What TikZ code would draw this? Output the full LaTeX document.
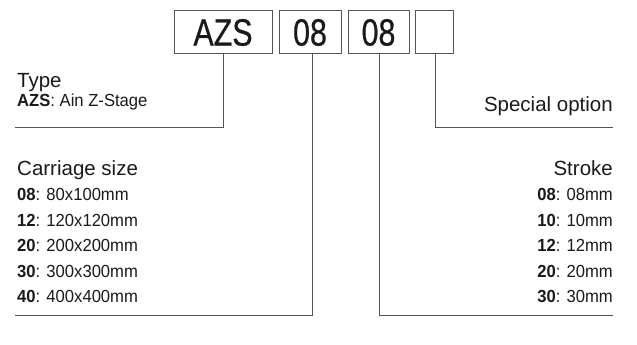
\documentclass[tikz,border=0pt]{standalone}
\usepackage{fontspec}
\setmainfont{Liberation Sans}
\newfontfamily\condfont[FakeStretch=0.95]{Liberation Sans}
\newfontfamily\boxfont[FakeStretch=0.8,FakeBold=0.6]{Liberation Sans}
\definecolor{linegray}{HTML}{555555}
\definecolor{txt}{HTML}{1A1A1A}
\begin{document}
\begin{tikzpicture}[x=1pt,y=1pt,
  codebox/.style={draw=linegray, line width=1pt, inner sep=0pt, minimum height=43pt,
    font=\boxfont\fontsize{38}{40}\selectfont, text=txt},
  conn/.style={draw=linegray, line width=1pt},
  head/.style={inner sep=0pt, font=\fontsize{20.5}{23}\selectfont, text=txt},
  item/.style={inner sep=0pt, font=\condfont\fontsize{17.5}{20}\selectfont, text=txt}]
\useasboundingbox (0,0) rectangle (637,-345);
% code boxes
\node[codebox, minimum width=98pt] (azs) at (223,-32.5) {AZS};
\node[codebox, minimum width=62pt] (sz) at (310,-32.5) {08};
\node[codebox, minimum width=61pt] (st) at (378.5,-32.5) {08};
\node[codebox, minimum width=38pt] (sp) at (434,-32.5) {};
% connector ends
\coordinate (typeend) at (15,-127);
\coordinate (sizeend) at (15,-315);
\coordinate (strokeend) at (613,-315);
\coordinate (specend) at (613,-127);
\draw[conn] (azs.south) |- (typeend);
\draw[conn] ([xshift=2pt]sz.south) |- (sizeend);
\draw[conn] ([xshift=1pt]st.south) |- (strokeend);
\draw[conn] ([xshift=1pt]sp.south) |- (specend);
% Type
\node[head, anchor=base west] (typeh) at (17,-87) {Type};
\node[item, anchor=base west] (type1) at (17,-106) {\bfseries AZS\mdseries: Ain Z-Stage};
% Special option
\node[head, anchor=base east] (spech) at (613,-111) {Special option};
% Carriage size
\node[head, anchor=base west] (sizeh) at (17,-175) {Carriage size};
\node[item, anchor=base west] (s1) at (17,-200.5) {\textbf{08}: 80x100mm};
\node[item, anchor=base west] (s2) at (17,-226) {\textbf{12}: 120x120mm};
\node[item, anchor=base west] (s3) at (17,-251.5) {\textbf{20}: 200x200mm};
\node[item, anchor=base west] (s4) at (17,-277) {\textbf{30}: 300x300mm};
\node[item, anchor=base west] (s5) at (17,-302) {\textbf{40}: 400x400mm};
% Stroke
\node[head, anchor=base east] (strh) at (613,-175) {Stroke};
\node[item, anchor=base east] (t1) at (613,-200.5) {\textbf{08}: 08mm};
\node[item, anchor=base east] (t2) at (613,-226) {\textbf{10}: 10mm};
\node[item, anchor=base east] (t3) at (613,-251.5) {\textbf{12}: 12mm};
\node[item, anchor=base east] (t4) at (613,-277) {\textbf{20}: 20mm};
\node[item, anchor=base east] (t5) at (613,-302) {\textbf{30}: 30mm};
\end{tikzpicture}
\end{document}
